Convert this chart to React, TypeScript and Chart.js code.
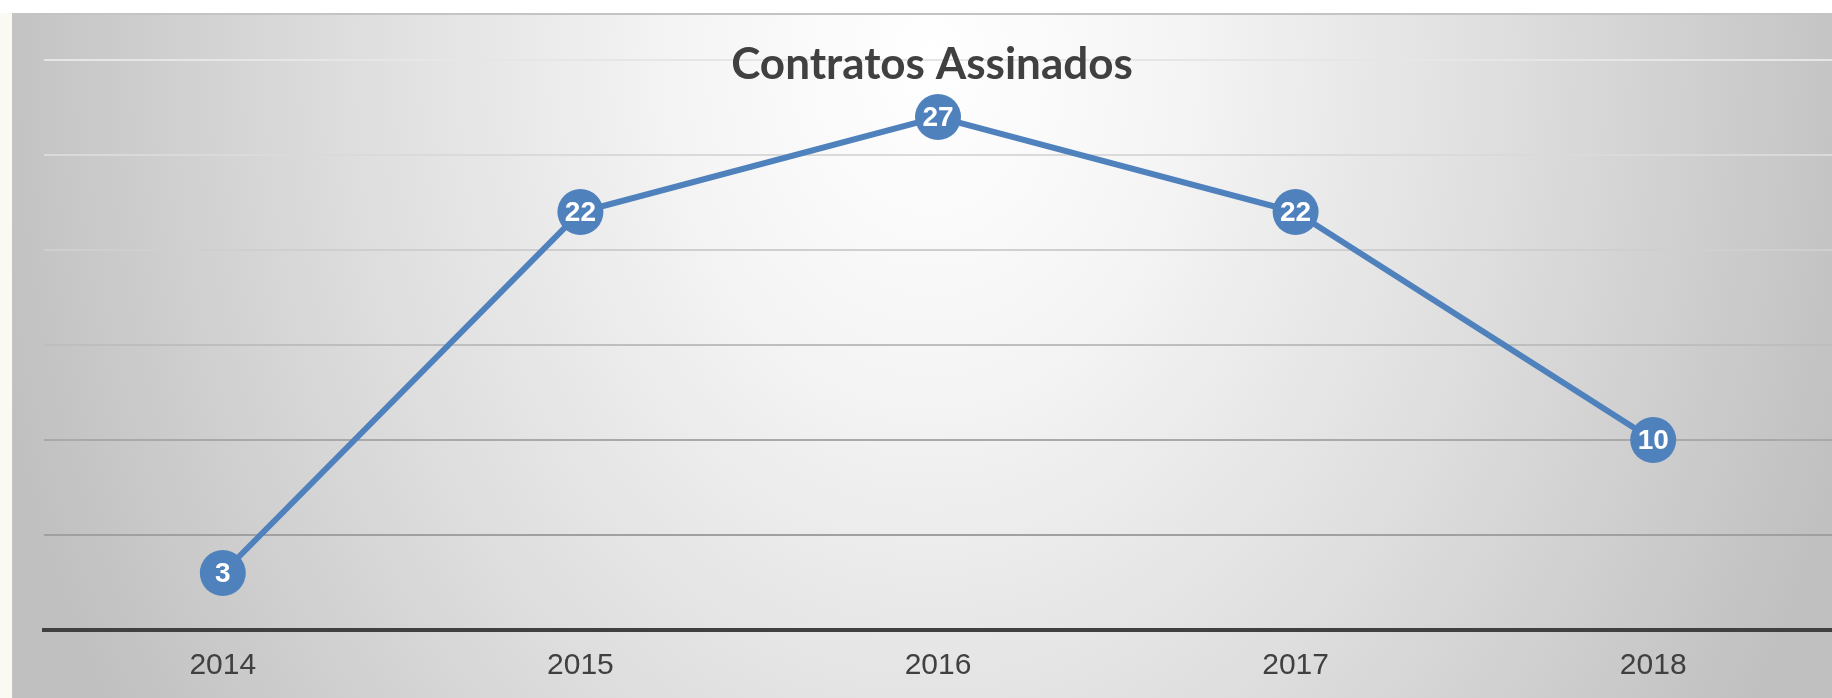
import React, { useEffect, useRef } from "react";
import { Chart, registerables } from "chart.js";

Chart.register(...registerables);

const categories: string[] = ["2014", "2015", "2016", "2017", "2018"];
const contratos: number[] = [3, 22, 27, 22, 10];
const yTicks: number[] = [0, 5, 10, 15, 20, 25, 30];
const chartTitle = "Contratos Assinados";

const gridColors: Record<number, string> = {
  0: "rgba(0,0,0,0)",
  5: "#a0a0a0",
  10: "#a9a9a9",
  15: "#bebebe",
  20: "#cfcfcf",
  25: "#dadada",
  30: "#e6e6e6",
};

const backgroundPlugin = {
  id: "bgPanel",
  beforeDraw(chart: any) {
    const { ctx, width, height } = chart;
    ctx.save();
    ctx.fillStyle = "#ffffff";
    ctx.fillRect(0, 0, width, height);
    ctx.fillStyle = "#fafaf3";
    ctx.fillRect(0, 13, 12, height - 13);
    const cx = 930;
    const cy = 60;
    ctx.save();
    ctx.beginPath();
    ctx.rect(13, 13, width - 13, height - 13);
    ctx.clip();
    ctx.translate(cx, cy);
    ctx.scale(1, 1.3);
    const g = ctx.createRadialGradient(0, 0, 0, 0, 0, 960);
    g.addColorStop(0, "#ffffff");
    g.addColorStop(0.25, "#f5f5f5");
    g.addColorStop(0.6, "#dedede");
    g.addColorStop(1, "#c0c0c0");
    ctx.fillStyle = g;
    ctx.fillRect(-cx - 10, -cy - 10, width + 20, height * 2);
    ctx.restore();
    ctx.fillStyle = "#c4c4c4";
    ctx.fillRect(12, 13, width - 12, 2);
    ctx.fillRect(12, 13, 1, height - 13);
    ctx.restore();
  },
};

const titlePlugin = {
  id: "overlayTitle",
  afterDraw(chart: any) {
    const { ctx, chartArea } = chart;
    ctx.save();
    ctx.font = "bold 44px Lato";
    ctx.fillStyle = "#404040";
    ctx.textAlign = "center";
    ctx.textBaseline = "alphabetic";
    ctx.fillText(chartTitle, 932, chartArea.top + 19);
    ctx.restore();
  },
};

const labelPlugin = {
  id: "pointLabels",
  afterDatasetsDraw(chart: any) {
    const { ctx } = chart;
    const meta = chart.getDatasetMeta(0);
    ctx.save();
    ctx.font = "bold 28px 'Liberation Sans', Arial";
    ctx.fillStyle = "#ffffff";
    ctx.textAlign = "center";
    ctx.textBaseline = "middle";
    meta.data.forEach((pt: any, i: number) => {
      ctx.fillText(String(contratos[i]), pt.x, pt.y + 1);
    });
    ctx.restore();
  },
};

export default function App() {
  const ref = useRef<HTMLCanvasElement | null>(null);
  useEffect(() => {
    document.body.style.margin = "0";
    if (!ref.current) return;
    const chart = new Chart(ref.current, {
      type: "line",
      data: {
        labels: categories,
        datasets: [
          {
            data: contratos,
            borderColor: "#4f81bd",
            backgroundColor: "#4f81bd",
            borderWidth: 6,
            pointRadius: 23,
            pointHoverRadius: 23,
            pointBorderWidth: 0,
            pointBackgroundColor: "#4f81bd",
            tension: 0,
            clip: false as any,
          },
        ],
      },
      options: {
        responsive: false,
        animation: false,
        events: [],
        layout: { autoPadding: false, padding: { left: 44, right: 0, top: 60, bottom: 0 } },
        plugins: {
          legend: { display: false },
          title: { display: false },
          tooltip: { enabled: false },
        },
        scales: {
          x: {
            offset: true,
            grid: { display: false, drawTicks: false },
            border: { display: true, color: "#404040", width: 4 },
            ticks: {
              color: "#404040",
              font: { family: "'Liberation Sans', Arial", size: 30 },
              padding: 18,
            },
            afterFit: (s: any) => {
              s.height = 68;
            },
          },
          y: {
            min: 0,
            max: 30,
            afterBuildTicks: (s: any) => {
              s.ticks = yTicks.map((v) => ({ value: v }));
            },
            ticks: { display: false },
            border: { display: false },
            grid: {
              drawTicks: false,
              lineWidth: 2,
              color: (c: any) => gridColors[c.tick?.value] ?? "#bbbbbb",
            },
            afterFit: (s: any) => {
              s.width = 0;
            },
          },
        },
      },
      plugins: [backgroundPlugin, titlePlugin, labelPlugin],
    });
    return () => chart.destroy();
  }, []);
  return (
    <div style={{ width: 1832, height: 698 }}>
      <canvas ref={ref} width={1832} height={698} style={{ display: "block" }} />
    </div>
  );
}
